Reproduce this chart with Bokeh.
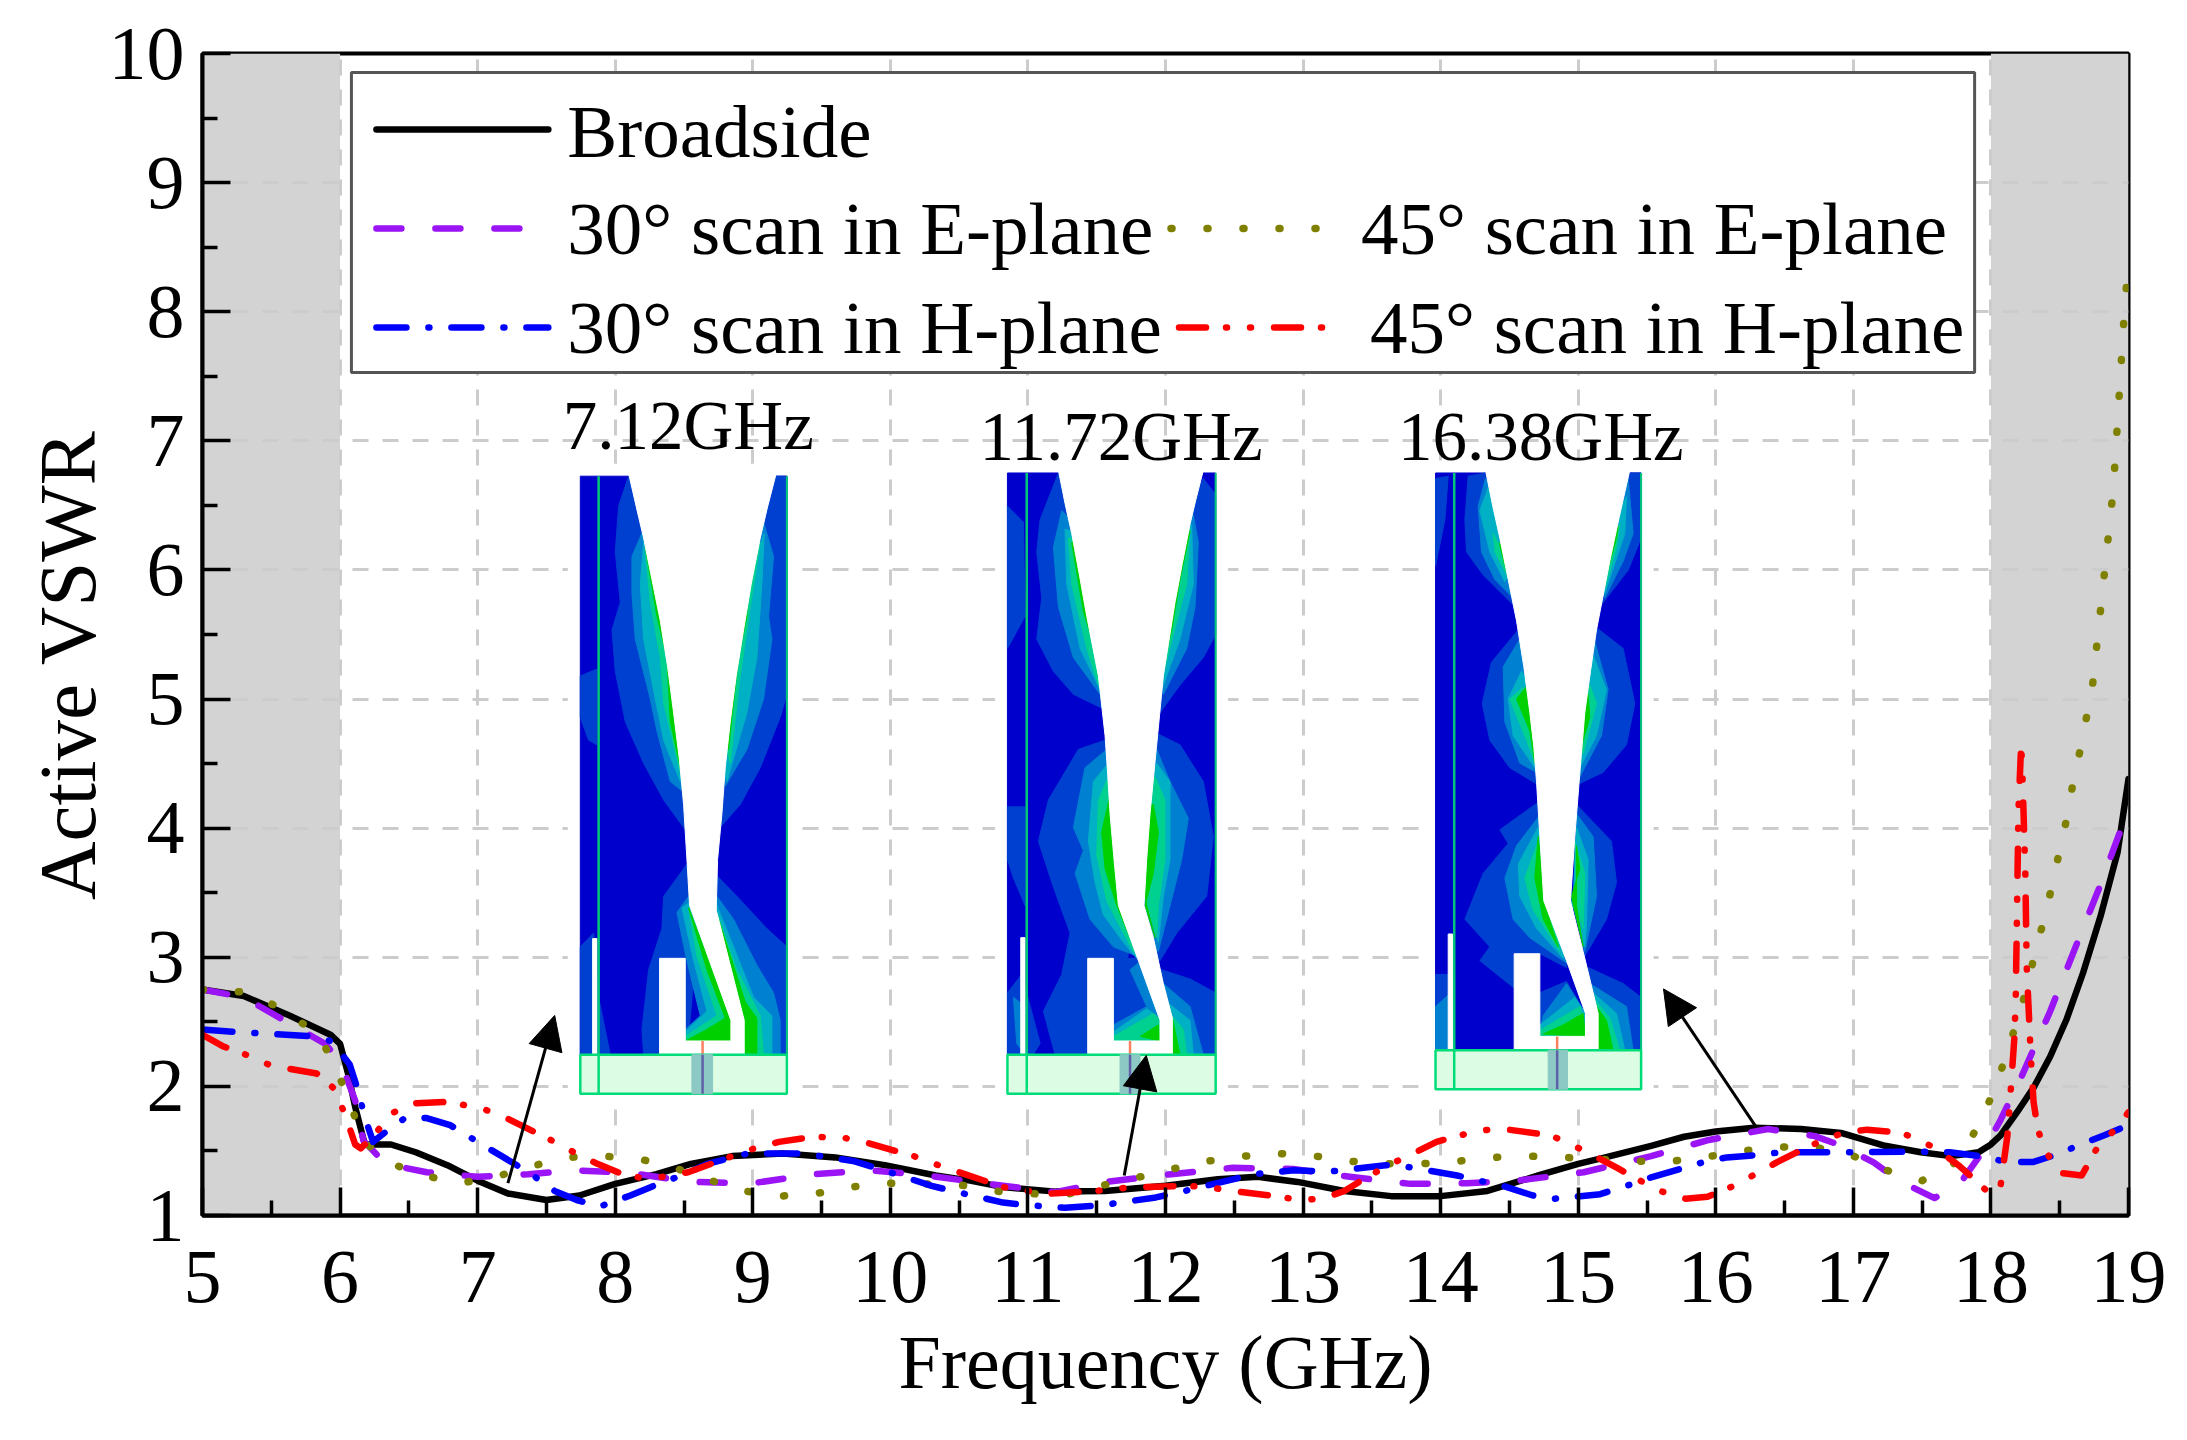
from bokeh.plotting import figure
from bokeh.embed import file_html
from bokeh.resources import INLINE
from bokeh.models import FixedTicker, Arrow, NormalHead
from bokeh.core.properties import value

x_black = [5,5.3,5.63,5.93,6,6.06,6.11,6.18,6.37,6.55,6.78,7,7.22,7.5,7.74,8,8.3,8.55,8.85,9.22,9.6,9.96,10.33,10.58,10.82,11.2,11.56,12,12.38,12.67,12.96,13.3,13.64,14,14.34,14.71,15,15.16,15.53,15.77,16,16.28,16.62,16.91,17.23,17.49,17.71,17.91,18,18.07,18.19,18.31,18.43,18.55,18.67,18.8,18.92,19]
y_black = [2.75,2.7,2.55,2.4,2.33,2.09,1.84,1.55,1.55,1.49,1.39,1.27,1.17,1.12,1.155,1.245,1.32,1.4,1.46,1.48,1.45,1.39,1.31,1.27,1.22,1.185,1.19,1.23,1.28,1.3,1.26,1.19,1.15,1.15,1.19,1.31,1.4,1.44,1.54,1.61,1.65,1.68,1.67,1.64,1.54,1.49,1.46,1.49,1.55,1.62,1.8,1.99,2.23,2.52,2.88,3.33,3.81,4.38]

x_purple = [5,5.3,5.63,5.89,6,6.11,6.17,6.33,6.63,7,7.37,7.7,8.11,8.55,9,9.44,9.85,10.27,10.71,11.2,11.56,12.04,12.49,12.93,13.34,13.78,14.19,14.56,15.04,15.53,15.95,16.38,16.72,16.89,17.15,17.33,17.59,17.77,17.95,18.07,18.22,18.43,18.63,18.8,18.92,19]
y_purple = [2.75,2.69,2.49,2.33,2.2,1.89,1.58,1.4,1.335,1.3,1.32,1.35,1.33,1.26,1.25,1.32,1.35,1.31,1.245,1.18,1.26,1.32,1.37,1.36,1.3,1.245,1.25,1.27,1.335,1.46,1.585,1.67,1.615,1.55,1.41,1.27,1.135,1.24,1.51,1.74,2.07,2.58,3.12,3.57,3.92,4.14]

x_olive = [5,5.3,5.54,5.85,6.07,6.15,6.35,6.61,6.87,7.13,7.39,7.64,7.91,8.17,8.43,8.67,8.94,9.2,9.46,9.71,9.97,10.49,10.75,11,11.27,11.53,11.78,12.05,12.3,12.57,12.83,13.09,13.34,13.6,13.86,14.12,14.38,14.64,14.9,15.42,15.68,15.94,16.2,16.46,16.72,16.98,17.24,17.5,17.76,17.92,18.04,18.13,18.22,18.29,18.36,18.43,18.49,18.55,18.6,18.66,18.74,18.89,18.97,19]
y_olive = [2.75,2.73,2.62,2.4,1.9,1.6,1.41,1.31,1.25,1.3,1.38,1.45,1.46,1.44,1.37,1.28,1.19,1.15,1.17,1.22,1.25,1.24,1.19,1.17,1.16,1.23,1.29,1.36,1.42,1.46,1.48,1.46,1.42,1.4,1.4,1.42,1.45,1.46,1.45,1.42,1.42,1.455,1.5,1.53,1.53,1.47,1.35,1.27,1.42,1.72,2.01,2.31,2.6,2.9,3.19,3.49,3.78,4.07,4.37,4.66,5.12,6.63,8.0,8.4]

x_blue = [5,5.26,5.78,5.94,6.07,6.13,6.18,6.24,6.37,6.48,6.63,6.8,7,7.19,7.37,7.56,7.72,7.89,8.11,8.28,8.48,8.67,8.96,9.37,9.74,10.07,10.3,10.45,10.82,11,11.27,11.54,11.93,12.1,12.49,12.64,12.93,13.19,13.6,13.74,14.12,14.28,14.45,14.67,14.83,15.16,15.38,15.53,15.77,15.93,16.08,16.32,16.47,16.86,17,17.42,17.7,17.95,18.11,18.31,18.5,18.65,18.82,19]
y_blue = [2.44,2.42,2.39,2.35,2.17,1.97,1.76,1.57,1.68,1.76,1.755,1.7,1.57,1.45,1.335,1.19,1.12,1.07,1.155,1.23,1.31,1.4,1.48,1.48,1.42,1.31,1.23,1.19,1.1,1.08,1.06,1.08,1.14,1.18,1.28,1.32,1.35,1.34,1.39,1.38,1.31,1.27,1.23,1.155,1.13,1.165,1.24,1.295,1.37,1.42,1.45,1.47,1.49,1.49,1.49,1.495,1.49,1.455,1.415,1.415,1.48,1.55,1.62,1.7]

x_red = [5,5.15,5.33,5.5,5.83,5.96,6.04,6.11,6.15,6.24,6.37,6.55,6.78,7.03,7.2,7.54,7.7,7.87,8.02,8.19,8.35,8.53,8.85,9,9.19,9.44,9.67,9.84,10.17,10.32,10.5,10.82,11,11.16,11.49,11.66,11.82,12.16,12.3,12.49,12.8,12.97,13.14,13.3,13.47,13.62,13.8,13.97,14.14,14.29,14.46,14.8,14.95,15.12,15.28,15.45,15.61,15.78,15.94,16.12,16.27,16.44,16.61,16.79,16.93,17.1,17.35,17.44,17.59,17.77,17.92,18,18.07,18.12,18.14,18.17,18.18,18.19,18.2,18.22,18.23,18.25,18.26,18.29,18.31,18.34,18.39,18.5,18.66,18.77,18.94,19]
y_red = [2.4,2.31,2.24,2.16,2.1,1.98,1.77,1.55,1.52,1.61,1.79,1.87,1.88,1.83,1.76,1.58,1.49,1.4,1.335,1.29,1.3,1.335,1.46,1.515,1.57,1.61,1.6,1.56,1.46,1.4,1.335,1.22,1.19,1.17,1.19,1.21,1.22,1.23,1.22,1.19,1.15,1.12,1.13,1.19,1.3,1.39,1.48,1.57,1.62,1.66,1.67,1.62,1.55,1.46,1.37,1.27,1.185,1.13,1.145,1.225,1.31,1.41,1.5,1.59,1.64,1.665,1.64,1.6,1.525,1.385,1.24,1.16,1.23,1.62,1.91,2.37,2.66,3.39,4.14,4.65,4.38,3.65,2.93,2.23,1.88,1.67,1.51,1.33,1.31,1.52,1.71,1.8]

x_ticks = list(range(5, 20))
y_ticks = list(range(1, 11))
x_minor = [5.5 + i for i in range(14)]
y_minor = [1.5 + i for i in range(9)]
band_left = [5, 6]
band_right = [18, 19]

legend_labels = ["Broadside", "30° scan in E-plane", "45° scan in E-plane", "30° scan in H-plane", "45° scan in H-plane"]
inset_labels = ["7.12GHz", "11.72GHz", "16.38GHz"]
inset_layer_colors = ["#0040d0", "#0080d0", "#00b0c4", "#00d090", "#00d000"]

serif = "Liberation Serif"

def dx(px):
    return 5 + (px - 202) / 137.64

def dy(py):
    return 1 + (1215 - py) / 129.1

# Trailing no-break spaces move the centred y title down, as it sits below the middle in the reference.
p = figure(width=2179, height=1432, x_range=(5, 19), y_range=(1, 10),
           output_backend="svg", toolbar_location=None,
           min_border_left=202, min_border_right=51, min_border_top=53, min_border_bottom=217,
           background_fill_color="white", border_fill_color="white",
           x_axis_label="Frequency (GHz)", y_axis_label="Active VSWR\u00a0\u00a0\u00a0")

p.outline_line_color = "black"
p.outline_line_width = 4

for ax, maj, mnr in ((p.xaxis[0], x_ticks, x_minor), (p.yaxis[0], y_ticks, y_minor)):
    ax.ticker = FixedTicker(ticks=maj, minor_ticks=mnr)
    ax.major_tick_in = 28
    ax.major_tick_out = 0
    ax.minor_tick_in = 15
    ax.minor_tick_out = 0
    ax.major_tick_line_width = 3.5
    ax.minor_tick_line_width = 3.5
    ax.major_tick_line_color = "black"
    ax.minor_tick_line_color = "black"
    ax.axis_line_width = 4
    ax.axis_line_color = "black"
    ax.major_label_text_font = serif
    ax.major_label_text_font_size = "76px"
    ax.major_label_text_color = "black"
    ax.axis_label_text_font = serif
    ax.axis_label_text_font_style = "normal"
    ax.axis_label_text_color = "black"

p.xaxis[0].axis_label_text_font_size = "76px"
p.yaxis[0].axis_label_text_font_size = "81px"
p.yaxis[0].major_label_orientation = "horizontal"
p.xaxis[0].major_label_standoff = 36
p.yaxis[0].major_label_standoff = 18
p.xaxis[0].axis_label_standoff = 15
p.yaxis[0].axis_label_standoff = -7

p.xgrid[0].ticker = FixedTicker(ticks=x_ticks)
p.ygrid[0].ticker = FixedTicker(ticks=y_ticks)
for g in (p.xgrid[0], p.ygrid[0]):
    g.grid_line_color = "#cccccc"
    g.grid_line_width = 3
    g.grid_line_dash = "16 14"

for b in (band_left, band_right):
    p.quad(left=b[0], right=b[1], bottom=1, top=10, fill_color="#d3d3d3", line_color=None, level="image")

inset_1 = dict(origin=560, box=(60, 680, 165, 1425, 1510), strip=(97, 110, 115, 1172), via=(395, 457, 427), feed_top=1395,
    slot=[(205,165),(228,232),(250,300),(275,390),(300,480),(322,580),(340,680),(357,780),(370,880),(380,1000),(388,1100),(512,1350),(512,1395),(375,1395),(375,1215),(298,1215),(298,1425),(552,1425),(552,1350),(468,1110),(472,1000),(485,900),(495,800),(510,700),(528,600),(550,500),(573,400),(600,300),(622,232),(648,165)],
    layers=[
      [[(205,165),(175,230),(165,330),(180,440),(155,500),(165,590),(195,700),(250,790),(310,870),(375,935),(420,800),(350,300)],
       [(640,165),(680,165),(680,640),(660,690),(600,800),(540,880),(480,930),(430,800),(520,400)],
       [(380,1010),(310,1080),(305,1150),(265,1240),(245,1370),(250,1425),(380,1425),(420,1100)],
       [(470,1035),(530,1080),(620,1150),(680,1190),(680,1425),(500,1425),(440,1150)],
       [(60,600),(110,585),(110,750),(85,740),(60,690)],
       [(60,1190),(100,1160),(115,1300),(150,1425),(60,1425)]],
      [[(250,280),(215,340),(215,420),(225,520),(270,650),(290,720),(330,830),(365,850),(420,700),(300,300)],
       [(610,265),(640,340),(625,470),(635,520),(610,650),(560,760),(495,840),(440,600)],
       [(385,1080),(350,1115),(380,1220),(420,1340),(375,1370),(375,1395),(515,1395),(515,1350),(400,1100)],
       [(470,1080),(520,1130),(590,1230),(640,1290),(660,1350),(660,1425),(555,1425),(520,1300),(440,1100)]],
      [[(250,310),(240,400),(250,520),(285,650),(310,740),(360,830),(400,600),(300,300)],
       [(612,290),(605,400),(590,560),(560,680),(500,830),(440,700),(560,400)],
       [(385,1095),(365,1105),(400,1220),(440,1330),(375,1375),(375,1395),(515,1395),(515,1350),(400,1100)],
       [(470,1100),(520,1190),(580,1300),(635,1340),(635,1425),(555,1425),(520,1300)]],
      [[(255,330),(270,440),(300,560),(310,660),(360,810),(380,700),(300,350)],
       [(600,310),(570,450),(540,600),(510,790),(480,700),(560,400)],
       [(385,1105),(410,1210),(470,1340),(375,1385),(375,1395),(515,1395),(515,1350)],
       [(470,1115),(530,1240),(600,1340),(610,1425),(553,1425),(530,1300)]],
      [[(255,320),(290,470),(320,560),(330,700),(360,800),(370,700),(300,350)],
       [(560,470),(535,560),(515,690),(505,760),(470,700),(560,400)],
       [(385,1105),(440,1240),(495,1345),(440,1370),(375,1395),(515,1395),(515,1350)],
       [(475,1130),(555,1310),(590,1345),(590,1425),(553,1425),(553,1350)]],
    ])

inset_2 = dict(origin=990, box=(52, 677, 158, 1425, 1510), strip=(92, 105, 110, 1170), via=(390, 450, 420), feed_top=1395,
    slot=[(205,158),(225,225),(245,290),(268,380),(290,470),(325,600),(345,730),(353,815),(360,900),(372,1000),(385,1100),(510,1350),(510,1395),(370,1395),(370,1215),(293,1215),(293,1425),(547,1425),(547,1345),(520,1270),(490,1170),(462,1100),(470,1000),(480,900),(500,750),(520,600),(555,440),(577,355),(600,270),(618,215),(640,158)],
    layers=[
      [[(205,158),(150,260),(140,330),(155,430),(140,520),(190,590),(250,640),(335,670),(400,600),(300,300)],
       [(640,170),(677,205),(677,510),(640,560),(570,620),(510,680),(430,600),(550,300)],
       [(345,740),(265,760),(175,870),(145,960),(190,1060),(240,1160),(215,1250),(160,1330),(195,1425),(300,1425),(400,1300),(430,1100),(400,800)],
       [(500,725),(570,750),(640,830),(670,950),(650,1080),(560,1160),(510,1220),(470,1200),(430,900)],
       [(515,1240),(600,1260),(677,1290),(677,1425),(540,1425),(500,1300)],
       [(370,1215),(440,1215),(510,1350),(510,1395),(370,1395)],
       [(52,230),(100,265),(105,470),(52,540)],
       [(52,885),(105,885),(105,1100),(70,1040),(52,1000)],
       [(52,1290),(95,1250),(150,1400),(130,1425),(52,1425)]],
      [[(215,240),(190,320),(205,450),(250,560),(330,640),(400,500),(300,300)],
       [(610,250),(625,310),(615,450),(590,540),(520,640),(430,500),(550,300)],
       [(350,760),(285,800),(250,930),(280,980),(255,1030),(300,1130),(370,1190),(440,1210),(450,1100),(400,800)],
       [(500,760),(540,830),(595,910),(575,1000),(540,1100),(505,1200),(470,1180),(430,900)],
       [(445,1225),(500,1320),(510,1395),(370,1395),(370,1360),(470,1320),(420,1240)],
       [(520,1270),(600,1320),(640,1425),(547,1425),(500,1300)],
       [(70,1300),(105,1320),(105,1425),(80,1400)]],
      [[(225,280),(230,400),(270,540),(330,630),(400,500),(300,300)],
       [(605,270),(610,400),(570,520),(515,630),(430,500)],
       [(355,790),(310,830),(295,960),(315,1050),(340,1120),(400,1180),(440,1215),(450,1100),(400,800)],
       [(500,790),(540,830),(540,1000),(520,1080),(505,1180),(470,1100),(430,900)],
       [(470,1325),(370,1375),(370,1395),(510,1395),(510,1345)],
       [(530,1310),(600,1350),(610,1425),(547,1425)]],
      [[(235,300),(245,400),(290,540),(325,620),(400,500),(300,300)],
       [(600,280),(590,400),(550,510),(512,620),(430,500)],
       [(355,820),(325,870),(320,990),(350,1090),(400,1160),(430,1200),(450,1100),(400,800)],
       [(495,820),(525,870),(525,1000),(505,1100),(500,1170),(470,1100),(430,900)],
       [(490,1335),(370,1385),(370,1395),(510,1395),(510,1350)],
       [(535,1330),(580,1370),(590,1425),(547,1425)]],
      [[(245,310),(280,460),(310,530),(325,600),(400,500),(290,300)],
       [(600,285),(570,390),(545,500),(520,580),(430,500)],
       [(360,860),(335,940),(345,1020),(380,1100),(420,1170),(450,1100),(400,800)],
       [(490,880),(505,940),(490,1030),(465,1100),(495,1170),(470,1100),(430,900)],
       [(505,1360),(450,1385),(510,1395)],
       [(547,1345),(570,1425),(547,1425)]],
    ])

inset_3 = dict(origin=1420, box=(47, 664, 158, 1415, 1500), strip=(85, 98, 103, 1162), via=(385, 443, 412), feed_top=1385,
    slot=[(197,158),(218,228),(240,300),(265,390),(290,480),(312,580),(330,680),(342,755),(350,830),(360,950),(372,1090),(440,1220),(497,1335),(497,1385),(360,1385),(360,1205),(283,1205),(283,1415),(535,1415),(535,1335),(490,1200),(452,1090),(465,950),(478,830),(495,680),(512,590),(530,500),(570,350),(598,255),(630,158)],
    layers=[
      [[(197,158),(145,165),(135,260),(140,330),(190,380),(280,445),(350,300),(260,200)],
       [(630,158),(664,158),(664,300),(625,370),(545,445),(500,300)],
       [(295,500),(215,570),(187,660),(210,740),(270,800),(350,835),(400,700)],
       [(530,495),(610,540),(645,660),(620,750),(550,810),(478,835),(440,700)],
       [(355,875),(240,935),(265,965),(190,1030),(135,1130),(210,1190),(180,1220),(283,1280),(283,1205),(360,1205),(440,1235),(460,1100)],
       [(470,880),(575,960),(590,1050),(560,1130),(495,1210),(470,1100)],
       [(360,1290),(440,1265),(497,1335),(497,1385),(360,1385)],
       [(505,1235),(610,1270),(664,1300),(664,1415),(535,1415),(500,1300)],
       [(47,170),(85,165),(75,260),(47,360)],
       [(47,1250),(85,1250),(85,1415),(47,1415)]],
      [[(197,170),(175,230),(185,330),(225,390),(280,430),(330,300)],
       [(625,170),(640,290),(610,350),(555,430),(500,300)],
       [(300,520),(250,580),(255,700),(300,790),(350,810),(400,700)],
       [(525,525),(565,630),(545,730),(480,820),(440,700)],
       [(358,905),(290,970),(255,1040),(280,1130),(330,1170),(440,1225),(460,1100)],
       [(470,900),(520,950),(530,1080),(495,1200),(460,1100)],
       [(440,1270),(370,1340),(360,1375),(360,1385),(497,1385),(497,1335)],
       [(510,1270),(620,1320),(640,1415),(535,1415)],
       [(47,1320),(85,1295),(85,1415),(47,1415)]],
      [[(205,190),(180,240),(210,330),(255,395),(300,330)],
       [(620,210),(615,290),(555,420),(530,330)],
       [(305,590),(265,650),(280,730),(345,800),(400,700)],
       [(520,555),(560,630),(530,730),(480,800),(440,700)],
       [(355,930),(295,1010),(300,1080),(350,1150),(430,1215),(460,1100)],
       [(470,930),(505,1000),(500,1140),(495,1190),(460,1100)],
       [(465,1300),(360,1360),(360,1385),(497,1385),(497,1335)],
       [(520,1290),(590,1335),(615,1415),(535,1415)]],
      [[(220,290),(225,330),(265,385),(280,430),(270,360)],
       [(600,270),(590,320),(555,410),(570,340)],
       [(310,625),(270,650),(320,740),(345,790),(345,700)],
       [(510,620),(530,660),(490,770),(470,700)],
       [(355,960),(315,1040),(340,1110),(420,1200),(400,1100)],
       [(465,960),(495,1030),(490,1150),(470,1100)],
       [(480,1320),(360,1372),(360,1385),(497,1385)],
       [(525,1305),(570,1345),(600,1415),(535,1415)]],
      [[(238,310),(250,345),(265,385),(255,330)],
       [(595,275),(580,310),(560,380),(590,300)],
       [(318,625),(290,650),(330,720),(345,790),(335,680)],
       [(505,640),(510,690),(490,740),(480,790),(495,680)],
       [(355,950),(345,1040),(370,1130),(415,1190),(380,1110),(370,1050)],
       [(470,970),(480,1020),(455,1080),(490,1190),(470,1100)],
       [(490,1335),(430,1360),(370,1380),(497,1385)],
       [(530,1320),(560,1350),(580,1415),(535,1415)]],
    ])

ZOOM_X = 3.0
ZOOM_Y = 2.178

def draw_inset(ins):
    ox = ins["origin"]
    fx = lambda zx: dx(ox + zx / ZOOM_X)
    fy = lambda zy: dy(400 + zy / ZOOM_Y)
    def poly(points, fill, line=None, lw=1):
        p.patch([fx(a) for a, _ in points], [fy(b) for _, b in points],
                fill_color=fill, line_color=line if line else fill, line_width=lw)
    def seg(x0, y0, x1, y1, color, w):
        p.line([fx(x0), fx(x1)], [fy(y0), fy(y1)], line_color=color, line_width=w)
    l, r, t, m, b = ins["box"]
    s0, s1, sl, st = ins["strip"]
    v0, v1, vc = ins["via"]
    pad_x, pad_y = 36, 26
    poly([(l - pad_x, t - pad_y), (r + pad_x, t - pad_y), (r + pad_x, b + pad_y), (l - pad_x, b + pad_y)], "white")
    poly([(l, t), (r, t), (r, m), (l, m)], "#0000cc")
    for color, group in zip(inset_layer_colors, ins["layers"]):
        for pts in group:
            poly(pts, color)
    # the slot runs a little past the top edge so no blue hairline is left across it
    poly([(a, c - 6 if c == t else c) for a, c in ins["slot"]], "white")
    poly([(s0, st), (s1, st), (s1, m), (s0, m)], "white")
    seg(r, t, r, m, "#00c878", 2)
    seg(sl, t, sl, b, "#00c878", 2.5)
    seg(vc, ins["feed_top"], vc, m, "#ff8060", 2.5)
    poly([(l, m), (r, m), (r, b), (l, b)], "#dcfde4", "#00dc78", 2.5)
    poly([(v0, m), (v1, m), (v1, b), (v0, b)], "#8cc8c4")
    seg(vc, m, vc, b, "#6060a8", 2.5)
    seg(sl, m, sl, b, "#00dc78", 2.5)

for ins in (inset_1, inset_2, inset_3):
    draw_inset(ins)

# ---- curves ----
series = [
    (x_black, y_black, "black", 6.5, "solid"),
    (x_purple, y_purple, "#9b14f5", 6.5, "25 34"),
    (x_olive, y_olive, "#808000", 7.5, "1 35"),
    (x_blue, y_blue, "#0000ff", 6.5, "30 22 1 22"),
    (x_red, y_red, "#ff0000", 6.5, "27 20 1 23 1 23"),
]
for xs, ys, c, w, d in series:
    p.line(xs, ys, line_color=c, line_width=w, line_dash=d, line_cap="round", line_join="round")

# ---- arrows ----
arrow_starts = [(7.22, 1.25), (11.70, 1.31), (16.29, 1.69)]
arrow_tips = [(7.56, 2.55), (11.86, 2.24), (15.62, 2.755)]
for (x0, y0), (x1, y1) in zip(arrow_starts, arrow_tips):
    p.add_layout(Arrow(end=NormalHead(size=34, fill_color="black", line_color="black", line_width=1),
                       x_start=x0, y_start=y0, x_end=x1, y_end=y1,
                       line_color="black", line_width=3))

# ---- inset captions ----
cap_x = [688, 1121, 1541]
cap_y = [426, 437, 437]
for t, cx, cy in zip(inset_labels, cap_x, cap_y):
    p.text([dx(cx)], [dy(cy)], text=[t], text_font=value(serif), text_font_size="69px", text_color="black",
           text_align="center", text_baseline="middle")

# ---- legend drawn by hand: two columns, first row single ----
p.patch([dx(a) for a in (351, 1975, 1975, 351)], [dy(b) for b in (72, 72, 372, 372)],
        fill_color="white", line_color="#555555", line_width=3)
handle_x = [(376, 548), (376, 526), (1171, 1324), (376, 548), (1179, 1345)]
handle_y = [129, 228, 228, 327, 327]
text_x = [567, 567, 1361, 567, 1370]
text_y = [131, 228, 228, 327, 327]
styles = [series[0], series[1], series[2], series[3], series[4]]
for lab, hx, hy, tx, ty, st in zip(legend_labels, handle_x, handle_y, text_x, text_y, styles):
    p.line([dx(hx[0]), dx(hx[1])], [dy(hy), dy(hy)], line_color=st[2], line_width=st[3], line_dash=st[4], line_cap="round")
    p.text([dx(tx)], [dy(ty)], text=[lab], text_font=value(serif), text_font_size="75px", text_color="black",
           text_align="left", text_baseline="middle")

open("out.html", "w").write(file_html(p, INLINE))
